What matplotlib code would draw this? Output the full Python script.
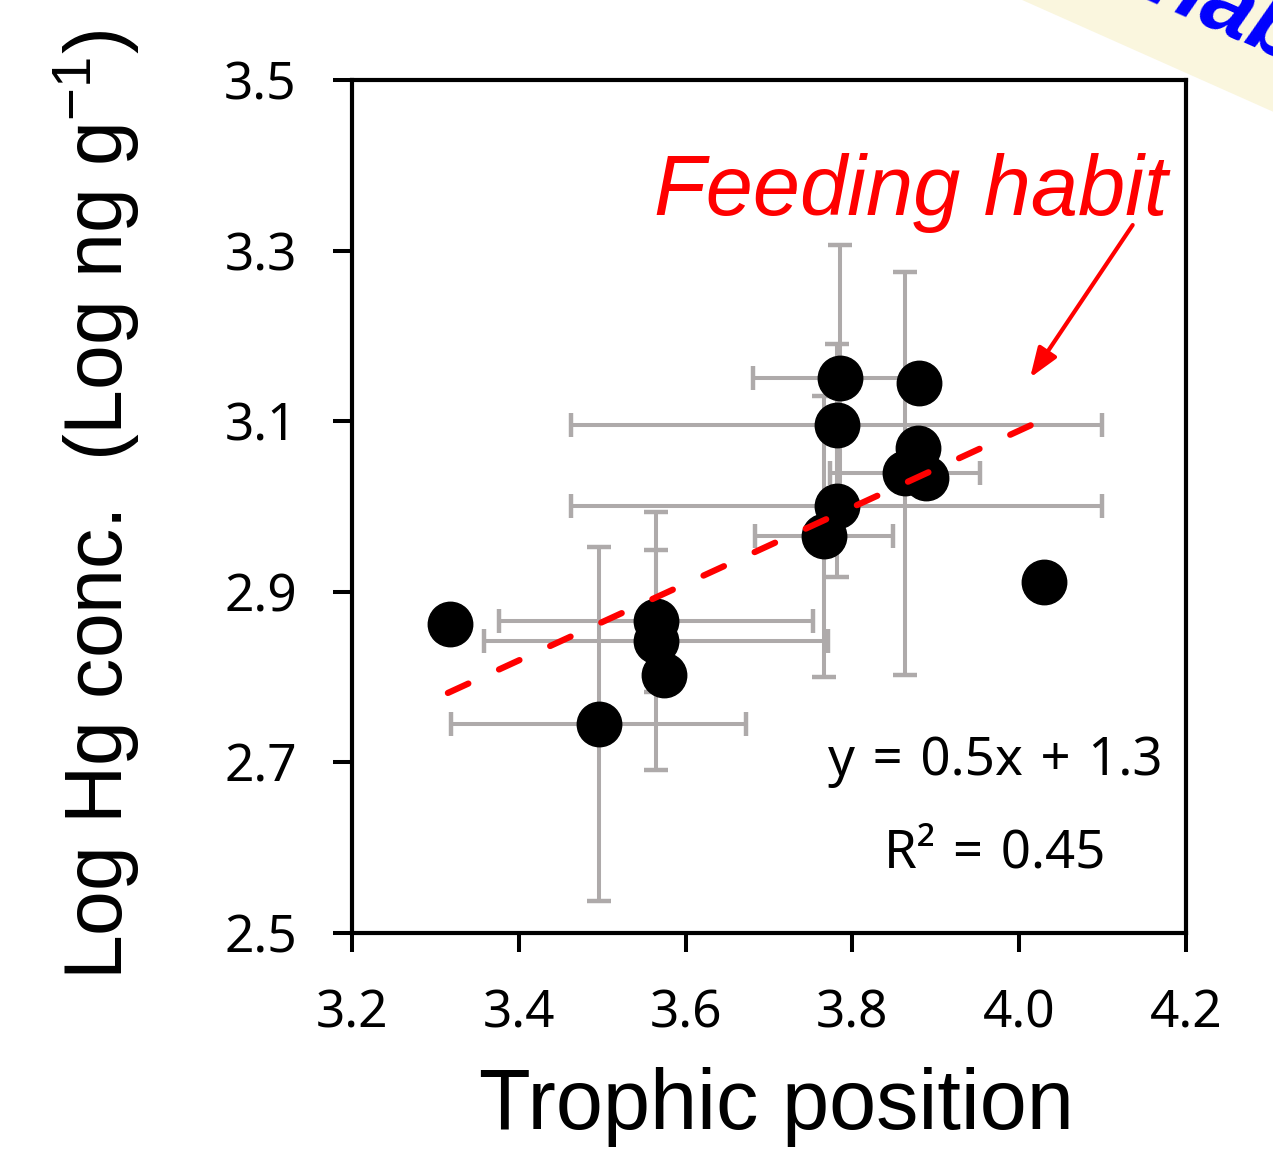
import numpy as np
import matplotlib
matplotlib.use("Agg")
import matplotlib.pyplot as plt

# trophic position vs log Hg
tp = [3.318, 3.496, 3.5645, 3.5645, 3.574, 3.785, 3.880, 3.781, 3.879, 3.863, 3.888, 3.781, 3.766, 4.030]
hg = [2.862, 2.745, 2.866, 2.842, 2.802, 3.151, 3.145, 3.095, 3.069, 3.039, 3.033, 3.001, 2.965, 2.911]
tp_err = [0, 0.177, 0.188, 0.206, 0, 0.104, 0, 0.318, 0, 0.090, 0, 0.318, 0.083, 0]
hg_err = [0, 0.208, 0.083, 0.151, 0, 0.156, 0, 0.095, 0, 0.236, 0, 0.084, 0.165, 0]

# trend line (as drawn)
slope, intercept = 0.449, 1.293
fit_range = [3.315, 4.017]

xticks = [3.2, 3.4, 3.6, 3.8, 4.0, 4.2]
yticks = [2.5, 2.7, 2.9, 3.1, 3.3, 3.5]

plt.rcParams['mathtext.fontset'] = 'custom'
plt.rcParams['mathtext.rm'] = 'Liberation Sans'
plt.rcParams['mathtext.default'] = 'rm'

fig = plt.figure(figsize=(12.73, 11.53), dpi=100)
ax = fig.add_axes([0.2765, 0.1908, 0.6552, 0.7398])

ax.errorbar(tp, hg, xerr=tp_err, yerr=hg_err, fmt='none', ecolor='#AEAAAA',
            elinewidth=2.9, capsize=8.5, capthick=3.2, zorder=2)
ax.plot(tp, hg, 'o', color='black', markersize=32, zorder=3)

fx = np.array(fit_range)
ax.plot(fx, slope * fx + intercept, color='#FF0000', lw=4.5, dashes=(3.6, 5.4),
        dash_capstyle='round', zorder=4)

ax.set_xlim(3.2, 4.2)
ax.set_ylim(2.5, 3.5)
ax.set_xticks(xticks)
ax.set_yticks(yticks)
ax.set_xticklabels([f"{v:.1f}" for v in xticks])
ax.set_yticklabels([f"{v:.1f}" for v in yticks])
for lab in ax.get_xticklabels() + ax.get_yticklabels():
    lab.set_fontfamily('Noto Sans')
    lab.set_fontsize(37)
ax.tick_params(direction='out', length=13.7, width=2.9, pad=26)
for s in ax.spines.values():
    s.set_linewidth(3)

ax.set_xlabel('Trophic position', fontfamily='Liberation Sans', fontsize=61, va='baseline')
ax.xaxis.set_label_coords(0.5084, -0.2298)
ax.set_ylabel('Log Hg conc.  (Log ng g$^{-1}$)', fontfamily='Liberation Sans', fontsize=58,
              va='baseline')
ax.yaxis.set_label_coords(-0.2758, 0.5018)

ax.text(4.178, 3.342, 'Feeding habit', color='#FF0000', fontfamily='Liberation Sans',
        style='italic', fontsize=61, ha='right', va='baseline')
ax.annotate('', xy=(4.013, 3.151), xytext=(4.136, 3.330),
            arrowprops=dict(arrowstyle='-|>,head_length=0.6,head_width=0.22',
                            color='#FF0000', lw=3, mutation_scale=30,
                            shrinkA=0, shrinkB=0))

sp = '\u2004'
ax.text(3.971, 2.685, f'y{sp}={sp}0.5x{sp}+{sp}1.3', fontfamily=['Noto Sans', 'DejaVu Sans'],
        fontsize=38, ha='center', va='baseline')
ax.text(3.971, 2.577, f'R²{sp}={sp}0.45', fontfamily=['Noto Sans', 'DejaVu Sans'],
        fontsize=38, ha='center', va='baseline')

# cut-off callout in the top right corner
fig.text(0.628, 1.1345, 'Feeding habit', color='#0000FF', fontfamily='Liberation Sans',
         style='italic', weight='bold', fontsize=66, rotation=-24, rotation_mode='anchor',
         ha='left', va='baseline',
         bbox=dict(boxstyle='square,pad=0.35', facecolor='#FAF6DE', edgecolor='none'))

fig.savefig('out.png', dpi=100)
